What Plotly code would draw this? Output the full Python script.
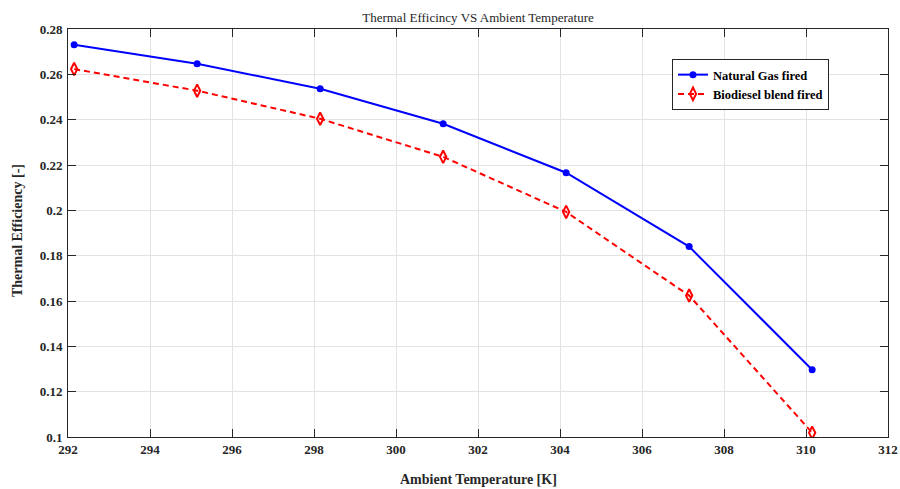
import plotly.graph_objects as go

temperature_K = [292.15, 295.15, 298.15, 301.15, 304.15, 307.15, 310.15]
eff_natural_gas = [0.2731, 0.2647, 0.2536, 0.2382, 0.2166, 0.1840, 0.1297]
eff_biodiesel = [0.2623, 0.2528, 0.2404, 0.2236, 0.1993, 0.1624, 0.1019]

x_ticks = [292, 294, 296, 298, 300, 302, 304, 306, 308, 310, 312]
y_ticks = [0.1, 0.12, 0.14, 0.16, 0.18, 0.2, 0.22, 0.24, 0.26, 0.28]
y_tick_labels = ["0.1", "0.12", "0.14", "0.16", "0.18", "0.2", "0.22", "0.24", "0.26", "0.28"]

FONT = "Liberation Serif, Times New Roman, serif"
INK = "#262626"

fig = go.Figure()
fig.add_trace(go.Scatter(
    x=temperature_K, y=eff_natural_gas, name="<b>Natural Gas fired</b>",
    mode="lines+markers",
    line=dict(color="#0000ff", width=2),
    marker=dict(symbol="circle", size=7, color="#0000ff"),
))
fig.add_trace(go.Scatter(
    x=temperature_K, y=eff_biodiesel, name="<b>Biodiesel blend fired</b>",
    mode="lines+markers",
    line=dict(color="#ff0000", width=2, dash="6px,4px"),
    marker=dict(symbol="diamond-tall-open", size=9, color="#ff0000", line=dict(width=2, color="#ff0000")),
))

axis_common = dict(
    showline=True, linecolor=INK, linewidth=1, mirror="ticks",
    ticks="inside", ticklen=8, tickwidth=1, tickcolor=INK,
    showgrid=True, gridcolor="#e3e3e3", gridwidth=1, zeroline=False,
    automargin=False,
    tickfont=dict(family=FONT, size=13, color=INK, weight="bold"),
)

L, R, T, B = 68, 888, 29, 437
W, H = 900, 489

fig.update_layout(
    width=W, height=H,
    margin=dict(l=L, r=W - R, t=T, b=H - B),
    paper_bgcolor="white", plot_bgcolor="white",
    font=dict(family=FONT, color=INK),
    title=dict(text="Thermal Efficincy VS Ambient Temperature", x=(L + R) / 2 / W, xanchor="center",
               y=1 - 17 / H, yanchor="middle", font=dict(family=FONT, size=13, color=INK)),
    xaxis=dict(range=[292, 312], tickvals=x_ticks, ticktext=[str(v) for v in x_ticks], **axis_common),
    yaxis=dict(range=[0.1, 0.28], tickvals=y_ticks, ticktext=y_tick_labels, ticklabelstandoff=2, **axis_common),
    legend=dict(x=(672 - L) / (R - L), y=(B - 59) / (B - T), xanchor="left", yanchor="top",
                bordercolor=INK, borderwidth=1, bgcolor="white",
                font=dict(family=FONT, size=12.5, color="#000000"),
                tracegroupgap=0, itemwidth=30),
    annotations=[
        dict(text="<b>Ambient Temperature [K]</b>", xref="paper", yref="paper",
             x=0.5, y=-(479 - B) / (B - T), xanchor="center", yanchor="middle",
             showarrow=False, font=dict(family=FONT, size=14, color=INK)),
        dict(text="<b>Thermal Efficiency [-]</b>", xref="paper", yref="paper",
             x=-(L - 17) / (R - L), y=(B - 231) / (B - T), xanchor="center", yanchor="middle",
             textangle=-90, showarrow=False, font=dict(family=FONT, size=14, color=INK)),
    ],
    showlegend=True,
)

fig.write_html("out.html", config={"displayModeBar": False},
               post_script="document.body.style.margin='0';document.body.style.overflow='hidden';")
